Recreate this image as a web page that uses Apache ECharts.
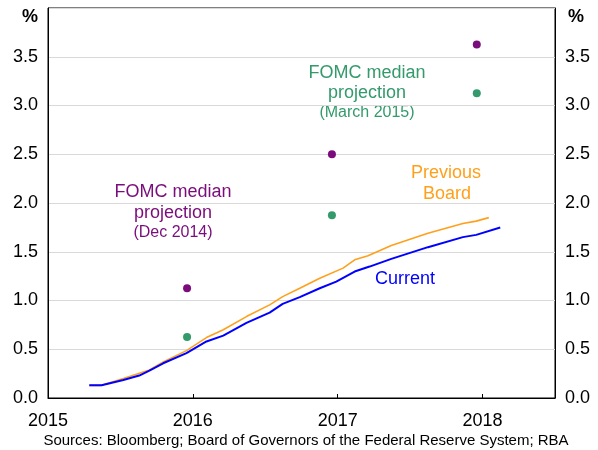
<!DOCTYPE html>
<html>
<head>
<meta charset="utf-8">
<script src="https://cdn.jsdelivr.net/npm/echarts@6/dist/echarts.min.js"></script>
<style>
  html, body { margin: 0; padding: 0; background: #fff; }
  #chart { width: 598px; height: 450px; }
</style>
</head>
<body>
<div id="chart"></div>
<script>
// 數據：[年份(小數), 利率 %]
const currentPath = [
    [2015.285, 0.13], [2015.37, 0.13], [2015.52, 0.185], [2015.63, 0.23],
    [2015.70, 0.28], [2015.795, 0.356], [2015.956, 0.46], [2016.094, 0.58],
    [2016.21, 0.64], [2016.37, 0.77], [2016.53, 0.876], [2016.62, 0.965],
    [2016.738, 1.034], [2016.876, 1.126], [2016.99, 1.194], [2017.117, 1.297],
    [2017.22, 1.348], [2017.37, 1.427], [2017.623, 1.547], [2017.864, 1.65],
    [2017.956, 1.673], [2018.122, 1.748]
];
const previousPath = [
    [2015.285, 0.13], [2015.37, 0.13], [2015.52, 0.20], [2015.70, 0.287],
    [2015.795, 0.37], [2015.956, 0.486], [2016.094, 0.62], [2016.21, 0.70],
    [2016.37, 0.835], [2016.53, 0.955], [2016.62, 1.04], [2016.738, 1.126],
    [2016.876, 1.229], [2017.037, 1.332], [2017.117, 1.417], [2017.209, 1.458],
    [2017.37, 1.564], [2017.623, 1.69], [2017.864, 1.79], [2017.956, 1.814],
    [2018.043, 1.85]
];
const projectionDates = [2015.96, 2016.96, 2017.96];
const fomcDec2014 = [1.125, 2.5, 3.625];
const fomcMar2015 = [0.625, 1.875, 3.125];

const yearTicks = [2015, 2016, 2017, 2018];

document.addEventListener("DOMContentLoaded", function () {
    const chart = echarts.init(document.getElementById('chart'));
    const font = 'Liberation Sans, Arial, sans-serif';

    const yAxisBase = {
        type: 'value',
        min: 0,
        max: 4,
        interval: 0.5,
        axisLine: { show: true, lineStyle: { color: '#000', width: 1 } },
        axisTick: { show: false },
        splitLine: { lineStyle: { color: '#d9d9d9', width: 1 } },
        axisLabel: {
            color: '#000', fontSize: 18, fontFamily: font, margin: 10,
            showMaxLabel: false,
            formatter: v => v.toFixed(1)
        }
    };

    chart.setOption({
        animation: false,
        grid: { left: 48, right: 43, top: 8, bottom: 52, show: true, borderColor: '#000', borderWidth: 1 },
        xAxis: {
            type: 'value',
            min: 2015,
            max: 2018.5,
            interval: 1,
            axisLine: { lineStyle: { color: '#000', width: 1 } },
            axisTick: { inside: true, length: 4, lineStyle: { color: '#000' } },
            splitLine: { show: false },
            axisLabel: {
                color: '#000', fontSize: 18, fontFamily: font, margin: 14,
                showMaxLabel: false,
                formatter: v => yearTicks.includes(v) ? String(v) : ''
            }
        },
        yAxis: [
            Object.assign({}, yAxisBase, { position: 'left' }),
            Object.assign({}, yAxisBase, { position: 'right', splitLine: { show: false } })
        ],
        series: [
            {
                name: 'Previous Board',
                type: 'line',
                data: previousPath,
                showSymbol: false,
                lineStyle: { color: '#ffa01c', width: 1.6 },
                z: 3
            },
            {
                name: 'Current',
                type: 'line',
                data: currentPath,
                showSymbol: false,
                lineStyle: { color: '#0000ff', width: 2 },
                z: 4
            },
            {
                name: 'FOMC Dec 2014',
                type: 'scatter',
                data: projectionDates.map((d, i) => [d, fomcDec2014[i]]),
                symbolSize: 8,
                itemStyle: { color: '#7b0c7b', opacity: 1 }
            },
            {
                name: 'FOMC March 2015',
                type: 'scatter',
                data: projectionDates.map((d, i) => [d, fomcMar2015[i]]),
                symbolSize: 8,
                itemStyle: { color: '#339a6b', opacity: 1 }
            }
        ],
        graphic: [
            { type: 'text', left: 22, top: 8, style: { text: '%', font: 'bold 18px ' + font, fill: '#000' } },
            { type: 'text', left: 568, top: 8, style: { text: '%', font: 'bold 18px ' + font, fill: '#000' } },
            // 註解文字
            { type: 'text', x: 173, y: 192, style: { text: 'FOMC median', font: '18px ' + font, fill: '#7b0c7b', align: 'center', verticalAlign: 'middle' } },
            { type: 'text', x: 173, y: 213, style: { text: 'projection', font: '18px ' + font, fill: '#7b0c7b', align: 'center', verticalAlign: 'middle' } },
            { type: 'text', x: 173, y: 233, style: { text: '(Dec 2014)', font: '16px ' + font, fill: '#7b0c7b', align: 'center', verticalAlign: 'middle' } },
            { type: 'text', x: 367, y: 73, style: { text: 'FOMC median', font: '18px ' + font, fill: '#339a6b', align: 'center', verticalAlign: 'middle' } },
            { type: 'text', x: 367, y: 93, style: { text: 'projection', font: '18px ' + font, fill: '#339a6b', align: 'center', verticalAlign: 'middle' } },
            { type: 'text', x: 367, y: 113, style: { text: '(March 2015)', font: '16px ' + font, fill: '#339a6b', align: 'center', verticalAlign: 'middle' } },
            { type: 'text', x: 446, y: 173, style: { text: 'Previous', font: '18px ' + font, fill: '#ffa01c', align: 'center', verticalAlign: 'middle' } },
            { type: 'text', x: 447, y: 194, style: { text: 'Board', font: '18px ' + font, fill: '#ffa01c', align: 'center', verticalAlign: 'middle' } },
            { type: 'text', x: 405, y: 279, style: { text: 'Current', font: '18px ' + font, fill: '#0000ff', align: 'center', verticalAlign: 'middle' } },
            { type: 'text', x: 306, y: 441, style: { text: 'Sources: Bloomberg; Board of Governors of the Federal Reserve System; RBA', font: '15px ' + font, fill: '#000', align: 'center', verticalAlign: 'middle' } }
        ]
    });
});
</script>
</body>
</html>
